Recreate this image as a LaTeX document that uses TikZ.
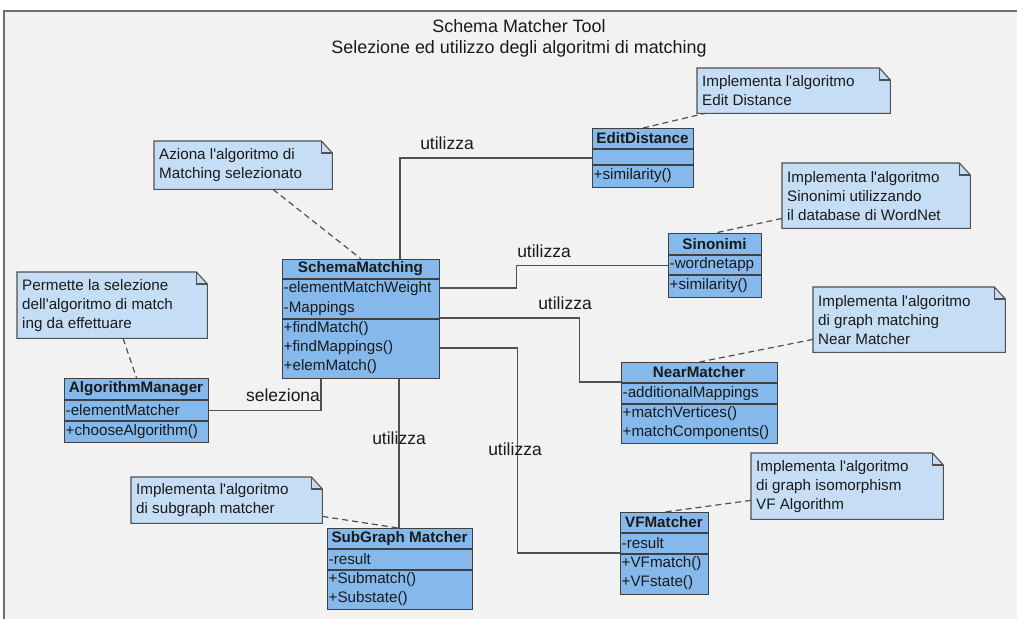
\documentclass[tikz,border=0pt]{standalone}
\usepackage{fontspec}
\newfontfamily\arial{Liberation Sans}
\usetikzlibrary{calc}
\definecolor{bgc}{HTML}{F2F2F2}
\definecolor{clsfill}{HTML}{85B9EC}
\definecolor{notefillc}{HTML}{C5DEF6}
\definecolor{edgec}{HTML}{404040}
\definecolor{linec}{HTML}{505050}
\definecolor{framec}{HTML}{707070}
\definecolor{txtc}{HTML}{1A1A1A}
\tikzset{
  clsbox/.style={draw=edgec, fill=clsfill, line width=1.2bp, inner sep=0pt},
  clsline/.style={draw=edgec, line width=1.2bp},
  hdr/.style={font=\arial\bfseries\fontsize{15.2bp}{19bp}\selectfont, inner sep=0pt, text=txtc},
  rowt/.style={font=\arial\fontsize{15.2bp}{19bp}\selectfont, inner sep=0pt, text=txtc, anchor=west},
  notebg/.style={draw=none, inner sep=0pt},
  notedraw/.style={draw=linec, fill=notefillc, line width=1.1bp},
  notetext/.style={font=\arial\fontsize{15.2bp}{19bp}\selectfont, inner sep=0pt, text=txtc, align=left},
  lbl/.style={font=\arial\fontsize{17.5bp}{21bp}\selectfont, inner sep=0pt, text=txtc},
  titlet/.style={font=\arial\fontsize{17.9bp}{21bp}\selectfont, inner sep=0pt, text=txtc, align=center},
  conn/.style={draw=linec, line width=1.4bp},
  dashl/.style={draw=linec, line width=1.2bp, dash pattern=on 6bp off 4bp},
}
\newcommand\umlclass[8]{%
  \node[clsbox, anchor=north west, minimum width={(#4-#2)*1bp}, minimum height={(#5-#3)*1bp}] (#1) at (#2,#3) {};
  \draw[clsline] (#2,#6) -- (#4,#6) (#2,#7) -- (#4,#7);
  \node[hdr] (#1-h) at ({(#2+#4)/2},{(#3+#6)/2}) {#8};
}
\newcommand\rowtxt[4]{\node[rowt] (#1) at ({#2+1.5},#3) {#4};}
\newcommand\notebox[6]{%
  \node[notebg, anchor=north west, minimum width=#4bp, minimum height=#5bp] (#1) at (#2,#3) {};
  \path[notedraw] (#1.north west) -- ([xshift=-11bp]#1.north east) -- ([yshift=-12bp]#1.north east) -- (#1.south east) -- (#1.south west) -- cycle;
  \draw[notedraw, fill=none] ([xshift=-11bp]#1.north east) -- ([xshift=-11bp,yshift=-12bp]#1.north east) -- ([yshift=-12bp]#1.north east);
  \node[notetext, anchor=west] (#1-t) at ([xshift=5bp]#1.west) {#6};
}
\begin{document}
\begin{tikzpicture}[x=1bp,y=-1bp]
\useasboundingbox (0,0) rectangle (1017,619);
\fill[bgc] (4,11) rectangle (1017,619);
\draw[framec, line width=2bp] (4,619) -- (4,11) -- (1017,11);

\node[titlet] (title) at (519,38) {Schema Matcher Tool\\Selezione ed utilizzo degli algoritmi di matching};

% notes
\notebox{edn}{697}{68}{193}{45}{Implementa l'algoritmo\\Edit Distance}
\notebox{sinn}{782}{163}{188}{65}{Implementa l'algoritmo\\Sinonimi utilizzando\\il database di WordNet}
\notebox{an}{154}{141}{178}{48}{Aziona l'algoritmo di\\Matching selezionato}
\notebox{pn}{17}{272}{190}{66}{Permette la selezione\\dell'algoritmo di match\\ing da effettuare}
\notebox{nmn}{813}{287}{192}{65}{Implementa l'algoritmo\\di graph matching\\Near Matcher}
\notebox{sgn}{131}{477}{191}{46}{Implementa l'algoritmo\\di subgraph matcher}
\notebox{vfn}{751}{453}{192}{66}{Implementa l'algoritmo\\di graph isomorphism\\VF Algorithm}

% classes
\umlclass{ed}{592}{128}{693}{187}{149}{165}{EditDistance}
\rowtxt{ed-m1}{592}{176}{+similarity()}

\umlclass{sin}{668}{233}{761}{297}{255}{275}{Sinonimi}
\rowtxt{sin-a1}{668}{265}{-wordnetapp}
\rowtxt{sin-m1}{668}{286}{+similarity()}

\umlclass{sm}{282}{259}{439}{378}{279}{319}{SchemaMatching}
\rowtxt{sm-a1}{282}{289}{-elementMatchWeight}
\rowtxt{sm-a2}{282}{309}{-Mappings}
\rowtxt{sm-m1}{282}{329}{+findMatch()}
\rowtxt{sm-m2}{282}{348}{+findMappings()}
\rowtxt{sm-m3}{282}{367}{+elemMatch()}

\umlclass{am}{64}{378}{208}{442}{400}{421}{AlgorithmManager}
\rowtxt{am-a1}{64}{410.5}{-elementMatcher}
\rowtxt{am-m1}{64}{431.5}{+chooseAlgorithm()}

\umlclass{nm}{621}{362}{777}{443}{383}{404}{NearMatcher}
\rowtxt{nm-a1}{621}{393.5}{-additionalMappings}
\rowtxt{nm-m1}{621}{414}{+matchVertices()}
\rowtxt{nm-m2}{621}{433}{+matchComponents()}

\umlclass{sg}{327}{528}{472}{609}{549}{570}{SubGraph Matcher}
\rowtxt{sg-a1}{327}{559.5}{-result}
\rowtxt{sg-m1}{327}{580}{+Submatch()}
\rowtxt{sg-m2}{327}{599}{+Substate()}

\umlclass{vf}{620}{512}{708}{594}{533}{554}{VFMatcher}
\rowtxt{vf-a1}{620}{543.5}{-result}
\rowtxt{vf-m1}{620}{564}{+VFmatch()}
\rowtxt{vf-m2}{620}{583}{+VFstate()}

% connectors
\draw[conn] ($(sm.north west)+(118,0)$) |- (ed.west);
\draw[conn] ($(sm.north east)+(0,29)$) -- ++(76,0) |- (sin.west);
\draw[conn] ($(sm.north east)+(0,59)$) -- ++(139,0) |- ($(nm.north west)+(0,20)$);
\draw[conn] ($(sm.north east)+(0,89)$) -- ++(77,0) |- ($(vf.north west)+(0,41)$);
\draw[conn] ($(sm.south west)+(117,0)$) -- ($(sg.north west)+(72,0)$);
\draw[conn] (am.east) -| ($(sm.south west)+(39,0)$);

% labels
\node[lbl] (l1) at (447,143) {utilizza};
\node[lbl] (l2) at (544,251) {utilizza};
\node[lbl] (l3) at (565,303) {utilizza};
\node[lbl] (l4) at (399,438) {utilizza};
\node[lbl] (l5) at (515,449) {utilizza};
\node[lbl] (l6) at (283,395) {seleziona};

% note links
\draw[dashl] ([xshift=51bp]ed.north west) -- ([xshift=8bp]edn.south west);
\draw[dashl] ([yshift=10bp]sinn.south west) -- (sin.north);
\draw[dashl] ([xshift=119bp]an.south west) -- (sm.north);
\draw[dashl] ([xshift=106bp]pn.south west) -- (am.north);
\draw[dashl] ([yshift=13bp]nmn.south west) -- (nm.north);
\draw[dashl] ([yshift=7bp]sgn.south east) -- ([xshift=71bp]sg.north west);
\draw[dashl] ([yshift=19bp]vfn.south west) -- (vf.north);
\end{tikzpicture}
\end{document}
